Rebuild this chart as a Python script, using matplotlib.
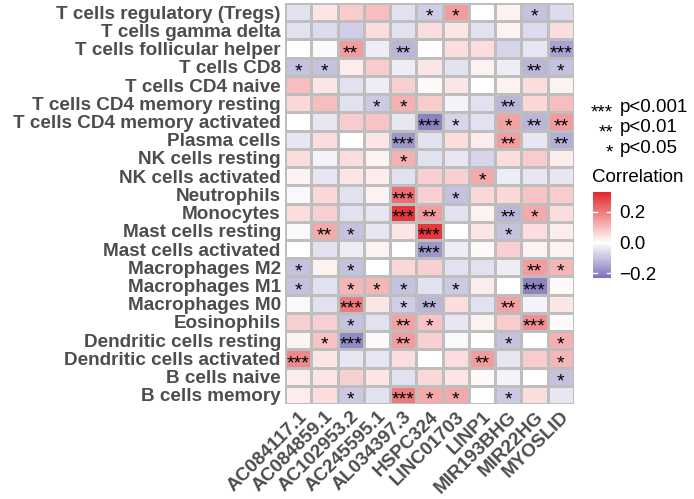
import numpy as np
import matplotlib
matplotlib.use("Agg")
import matplotlib.pyplot as plt
from matplotlib.colors import LinearSegmentedColormap, Normalize

plt.rcParams['font.family'] = ['Liberation Sans', 'DejaVu Sans']

cells = ["T cells regulatory (Tregs)", "T cells gamma delta", "T cells follicular helper",
         "T cells CD8", "T cells CD4 naive", "T cells CD4 memory resting",
         "T cells CD4 memory activated", "Plasma cells", "NK cells resting",
         "NK cells activated", "Neutrophils", "Monocytes", "Mast cells resting",
         "Mast cells activated", "Macrophages M2", "Macrophages M1", "Macrophages M0",
         "Eosinophils", "Dendritic cells resting", "Dendritic cells activated",
         "B cells naive", "B cells memory"]
genes = ["AC084117.1", "AC084859.1", "AC102953.2", "AC245595.1", "AL034397.3",
         "HSPC324", "LINC01703", "LINP1", "MIR193BHG", "MIR22HG", "MYOSLID"]

corr = [
    [-0.05, 0.04, 0.08, 0.10, -0.05, -0.08, 0.15, 0.00, 0.02, -0.10, -0.06],
    [-0.05, -0.06, -0.08, 0.05, -0.05, 0.05, 0.04, -0.05, 0.02, -0.06, 0.05],
    [0.00, -0.01, 0.15, -0.03, -0.12, 0.00, 0.05, 0.05, -0.07, -0.04, -0.15],
    [-0.10, -0.10, 0.03, 0.08, -0.03, 0.04, -0.05, 0.02, -0.03, -0.12, -0.10],
    [0.10, 0.04, -0.05, -0.03, 0.07, 0.01, 0.04, 0.00, 0.02, 0.05, 0.02],
    [0.06, 0.10, -0.05, -0.09, 0.12, 0.08, -0.02, -0.05, -0.12, 0.06, 0.10],
    [0.00, -0.04, 0.08, 0.09, -0.04, -0.20, -0.07, -0.05, 0.14, -0.12, 0.15],
    [-0.04, 0.05, 0.00, 0.04, -0.17, -0.05, 0.05, 0.03, 0.15, -0.04, -0.13],
    [0.05, -0.02, 0.05, 0.02, 0.12, -0.05, -0.04, -0.07, 0.05, 0.08, 0.03],
    [0.02, -0.04, 0.04, 0.03, -0.05, 0.07, 0.07, 0.13, -0.03, -0.04, -0.04],
    [-0.01, 0.06, -0.05, 0.02, 0.22, 0.07, -0.10, 0.06, 0.06, 0.09, 0.08],
    [0.05, 0.07, -0.05, -0.04, 0.30, 0.15, -0.05, 0.02, -0.12, 0.13, 0.05],
    [-0.01, 0.13, -0.10, -0.04, 0.04, 0.30, 0.00, 0.04, -0.10, 0.05, 0.03],
    [0.00, -0.05, -0.03, 0.02, 0.00, -0.17, -0.03, 0.01, 0.07, 0.02, 0.02],
    [-0.10, 0.02, -0.10, 0.00, 0.06, 0.07, -0.05, -0.05, -0.03, 0.15, 0.11],
    [-0.10, -0.05, 0.11, 0.11, -0.10, -0.05, -0.09, 0.03, 0.00, -0.20, 0.01],
    [-0.01, -0.05, 0.20, 0.04, -0.08, -0.12, 0.05, -0.05, 0.14, -0.02, 0.04],
    [0.07, 0.07, -0.10, -0.05, 0.14, 0.09, -0.04, 0.02, 0.08, 0.17, 0.01],
    [0.02, 0.09, -0.19, 0.01, 0.15, 0.07, -0.01, 0.00, -0.10, 0.00, 0.12],
    [0.18, 0.04, -0.04, -0.04, 0.05, 0.00, 0.05, 0.15, -0.04, 0.08, 0.11],
    [0.03, 0.04, 0.07, 0.04, -0.05, 0.06, 0.04, 0.01, -0.02, 0.00, -0.10],
    [0.03, 0.05, -0.09, -0.05, 0.20, 0.13, 0.13, 0.00, -0.09, 0.05, -0.04],
]

stars = [
    ["", "", "", "", "", "*", "*", "", "", "*", ""],
    ["", "", "", "", "", "", "", "", "", "", ""],
    ["", "", "**", "", "**", "", "", "", "", "", "***"],
    ["*", "*", "", "", "", "", "", "", "", "**", "*"],
    ["", "", "", "", "", "", "", "", "", "", ""],
    ["", "", "", "*", "*", "", "", "", "**", "", ""],
    ["", "", "", "", "", "***", "*", "", "*", "**", "**"],
    ["", "", "", "", "***", "", "", "", "**", "", "**"],
    ["", "", "", "", "*", "", "", "", "", "", ""],
    ["", "", "", "", "", "", "", "*", "", "", ""],
    ["", "", "", "", "***", "", "*", "", "", "", ""],
    ["", "", "", "", "***", "**", "", "", "**", "*", ""],
    ["", "**", "*", "", "", "***", "", "", "*", "", ""],
    ["", "", "", "", "", "***", "", "", "", "", ""],
    ["*", "", "*", "", "", "", "", "", "", "**", "*"],
    ["*", "", "*", "*", "*", "", "*", "", "", "***", ""],
    ["", "", "***", "", "*", "**", "", "", "**", "", ""],
    ["", "", "*", "", "**", "*", "", "", "", "***", ""],
    ["", "*", "***", "", "**", "", "", "", "*", "", "*"],
    ["***", "", "", "", "", "", "", "**", "", "", "*"],
    ["", "", "", "", "", "", "", "", "", "", "*"],
    ["", "", "*", "", "***", "*", "*", "", "*", "", ""],
]

legend_stars = ["***", "**", "*"]
legend_labels = ["p<0.001", "p<0.01", "p<0.05"]
cbar_ticks = [-0.2, 0.0, 0.2]

data = np.array(corr)
nrow, ncol = data.shape

W, H = 694, 499
fig = plt.figure(figsize=(W / 100, H / 100), dpi=100)
ax = fig.add_axes([285 / W, 1 - 404 / H, (574 - 285) / W, (404 - 3) / H])

vmin, vmax = -0.23, 0.33
mid = (0 - vmin) / (vmax - vmin)
cmap = LinearSegmentedColormap.from_list(
    "c", [(0.0, "#7A73B8"), (mid, "#FFFFFF"), (1.0, "#E2262A")])
norm = Normalize(vmin=vmin, vmax=vmax)

mesh = ax.pcolormesh(np.arange(ncol + 1), np.arange(nrow + 1), data, cmap=cmap, norm=norm,
                     edgecolors="#BEBEBE", linewidth=2.0)
ax.set_xlim(0, ncol)
ax.set_ylim(nrow, 0)
for s in ax.spines.values():
    s.set_visible(False)

for i in range(nrow):
    for j in range(ncol):
        if stars[i][j]:
            ax.text(j + 0.5, i + 0.78, stars[i][j], ha="center", va="center",
                    fontsize=14, color="black")

ax.set_yticks(np.arange(nrow) + 0.5)
ax.set_yticklabels(cells, fontsize=13.6, fontweight="bold", color="#4D4D4D")
ax.set_xticks(np.arange(ncol) + 0.5)
ax.set_xticklabels(genes, fontsize=13.6, fontweight="bold", color="#4D4D4D",
                   rotation=45, ha="right", rotation_mode="anchor")
ax.tick_params(length=0, pad=3)

# significance legend
for k, (st, lb) in enumerate(zip(legend_stars, legend_labels)):
    y = 1 - (108 + 20 * k) / H
    fig.text(613 / W, y - 0.010, st, ha="right", va="center", fontsize=13.5)
    fig.text(620 / W, y, lb, ha="left", va="center", fontsize=13.5)

# colorbar
cax = fig.add_axes([593 / W, 1 - 278 / H, 18 / W, (278 - 192) / H])
cb = fig.colorbar(mesh, cax=cax, ticks=cbar_ticks)
cb.outline.set_visible(False)
cb.ax.tick_params(length=0, labelsize=13.5, pad=6)
cb.ax.set_yticklabels(["\u22120.2", "0.0", "0.2"])
for t in cbar_ticks:
    cb.ax.axhline(t, xmin=0, xmax=0.2, color="white", lw=1)
    cb.ax.axhline(t, xmin=0.8, xmax=1.0, color="white", lw=1)
fig.text(592 / W, 1 - 178 / H, "Correlation", ha="left", va="center", fontsize=13.5)

fig.savefig("out.png", dpi=100)
